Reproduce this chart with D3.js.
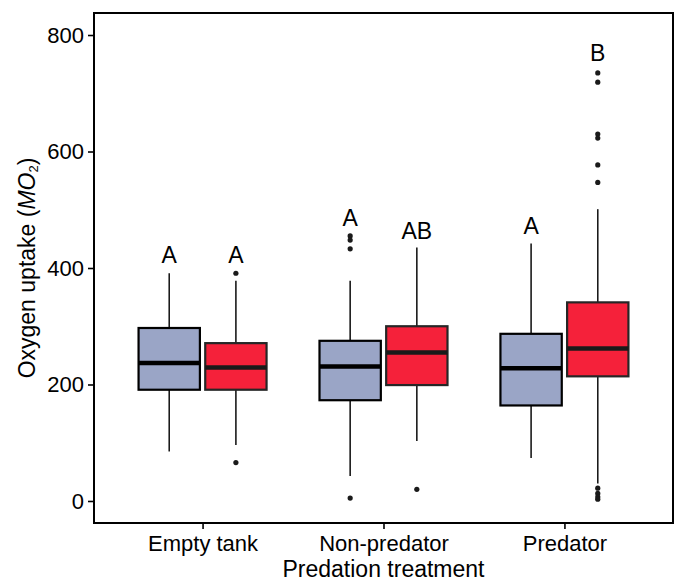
<!DOCTYPE html>
<html>
<head>
<meta charset="utf-8">
<title>Oxygen uptake by predation treatment</title>
<script src="https://cdn.jsdelivr.net/npm/d3@7"></script>
<style>
body { margin: 0; background: #fff; }
svg text { font-family: "Liberation Sans", Arial, sans-serif; fill: #000; }
</style>
</head>
<body>
<div id="chart"></div>
<script>
// categories
var treatments = ["Empty tank", "Non-predator", "Predator"];
var groups = ["blue", "red"];

// box stats (whisker low, Q1, median, Q3, whisker high)
var blueLow  = [85, 43, 74];
var blueQ1   = [191, 173, 164];
var blueMed  = [237, 231, 228];
var blueQ3   = [297, 275, 287];
var blueHigh = [391, 378, 442];

var redLow  = [96, 103, 30];
var redQ1   = [191, 199, 214];
var redMed  = [229, 255, 262];
var redQ3   = [271, 300, 341];
var redHigh = [378, 435, 501];

// outliers
var blueOut = [[], [455, 448, 433, 5], []];
var redOut  = [[391, 66], [20], [735, 719, 630, 623, 577, 547, 22, 13, 7, 3]];

// significance letters and where they sit (in y units)
var blueLetters = ["A", "A", "A"];
var redLetters  = ["A", "AB", "B"];
var blueLetterY = [422, 486, 472];
var redLetterY  = [422, 464, 769];

var yTicks = [0, 200, 400, 600, 800];

var svgWidth = 681, svgHeight = 581;
var margin = {top: 13, right: 8, bottom: 58, left: 94};
var width = svgWidth - margin.left - margin.right,
    height = svgHeight - margin.top - margin.bottom;

var fills = {blue: "#9aa5c6", red: "#f5213a"};
var strokes = {blue: "#000", red: "#262626"};

// build rows from the arrays
var rows = [];
treatments.forEach(function(t, i) {
    rows.push({t: t, g: "blue", low: blueLow[i], q1: blueQ1[i], med: blueMed[i], q3: blueQ3[i], high: blueHigh[i], out: blueOut[i], letter: blueLetters[i], ly: blueLetterY[i]});
    rows.push({t: t, g: "red", low: redLow[i], q1: redQ1[i], med: redMed[i], q3: redQ3[i], high: redHigh[i], out: redOut[i], letter: redLetters[i], ly: redLetterY[i]});
});

var x = d3.scalePoint().domain(treatments).range([0, width]).padding(0.6);
var xIn = d3.scaleBand().domain(groups).range([-64, 64]).paddingInner(0.08);
var y = d3.scaleLinear().domain([-37.8, 837.8]).range([height, 0]);

var svg = d3.select("#chart").append("svg")
    .attr("width", svgWidth)
    .attr("height", svgHeight);

svg.append("rect").attr("width", svgWidth).attr("height", svgHeight).attr("fill", "#fff");

var g = svg.append("g")
    .attr("transform", "translate(" + margin.left + "," + margin.top + ")");

// axes
var yAxis = g.append("g")
    .call(d3.axisLeft(y).tickValues(yTicks).tickSize(6).tickPadding(4));
yAxis.select(".domain").remove();
yAxis.selectAll(".tick line").attr("stroke", "#000").attr("stroke-width", 1.6);
yAxis.selectAll(".tick text").attr("font-size", "22px").attr("fill", "#000");

var xAxis = g.append("g")
    .attr("transform", "translate(0," + height + ")")
    .call(d3.axisBottom(x).tickSize(6).tickPadding(6));
xAxis.select(".domain").remove();
xAxis.selectAll(".tick line").attr("stroke", "#000").attr("stroke-width", 1.6);
xAxis.selectAll(".tick text").attr("font-size", "22px").attr("fill", "#000");

// boxes
var boxes = g.selectAll(".box")
    .data(rows)
    .enter()
    .append("g")
    .attr("class", "box")
    .attr("transform", function(d) { return "translate(" + (x(d.t) + xIn(d.g)) + ",0)"; });

var bw = xIn.bandwidth();

boxes.append("line")
    .attr("x1", bw / 2).attr("x2", bw / 2)
    .attr("y1", function(d) { return y(d.high); })
    .attr("y2", function(d) { return y(d.q3); })
    .attr("stroke", "#1a1a1a").attr("stroke-width", 1.6);

boxes.append("line")
    .attr("x1", bw / 2).attr("x2", bw / 2)
    .attr("y1", function(d) { return y(d.q1); })
    .attr("y2", function(d) { return y(d.low); })
    .attr("stroke", "#1a1a1a").attr("stroke-width", 1.6);

boxes.append("rect")
    .attr("x", 0)
    .attr("y", function(d) { return y(d.q3); })
    .attr("width", bw)
    .attr("height", function(d) { return y(d.q1) - y(d.q3); })
    .attr("fill", function(d) { return fills[d.g]; })
    .attr("stroke", function(d) { return strokes[d.g]; })
    .attr("stroke-width", 2.2);

boxes.append("line")
    .attr("x1", 0).attr("x2", bw)
    .attr("y1", function(d) { return y(d.med); })
    .attr("y2", function(d) { return y(d.med); })
    .attr("stroke", function(d) { return d.g == "blue" ? "#000" : "#1a1a1a"; })
    .attr("stroke-width", 4.5);

boxes.selectAll(".out")
    .data(function(d) { return d.out; })
    .enter()
    .append("circle")
    .attr("class", "out")
    .attr("cx", bw / 2)
    .attr("cy", function(v) { return y(v); })
    .attr("r", 2.6)
    .attr("fill", "#1a1a1a");

boxes.append("text")
    .attr("x", bw / 2)
    .attr("y", function(d) { return y(d.ly); })
    .attr("dy", "0.36em")
    .attr("text-anchor", "middle")
    .attr("font-size", "23px")
    .text(function(d) { return d.letter; });

// panel border
g.append("rect")
    .attr("width", width)
    .attr("height", height)
    .attr("fill", "none")
    .attr("stroke", "#000")
    .attr("stroke-width", 2);

// axis titles
svg.append("text")
    .attr("x", margin.left + width / 2)
    .attr("y", 577)
    .attr("text-anchor", "middle")
    .attr("font-size", "23px")
    .text("Predation treatment");

var yt = svg.append("text")
    .attr("transform", "translate(35," + (margin.top + height / 2) + ") rotate(-90)")
    .attr("text-anchor", "middle")
    .attr("font-size", "23px");
yt.append("tspan").text("Oxygen uptake (");
yt.append("tspan").attr("font-style", "italic").text("MO");
yt.append("tspan").attr("font-size", "13px").attr("dy", "3").text("2");
yt.append("tspan").attr("dy", "-3").text(")");
</script>
</body>
</html>
